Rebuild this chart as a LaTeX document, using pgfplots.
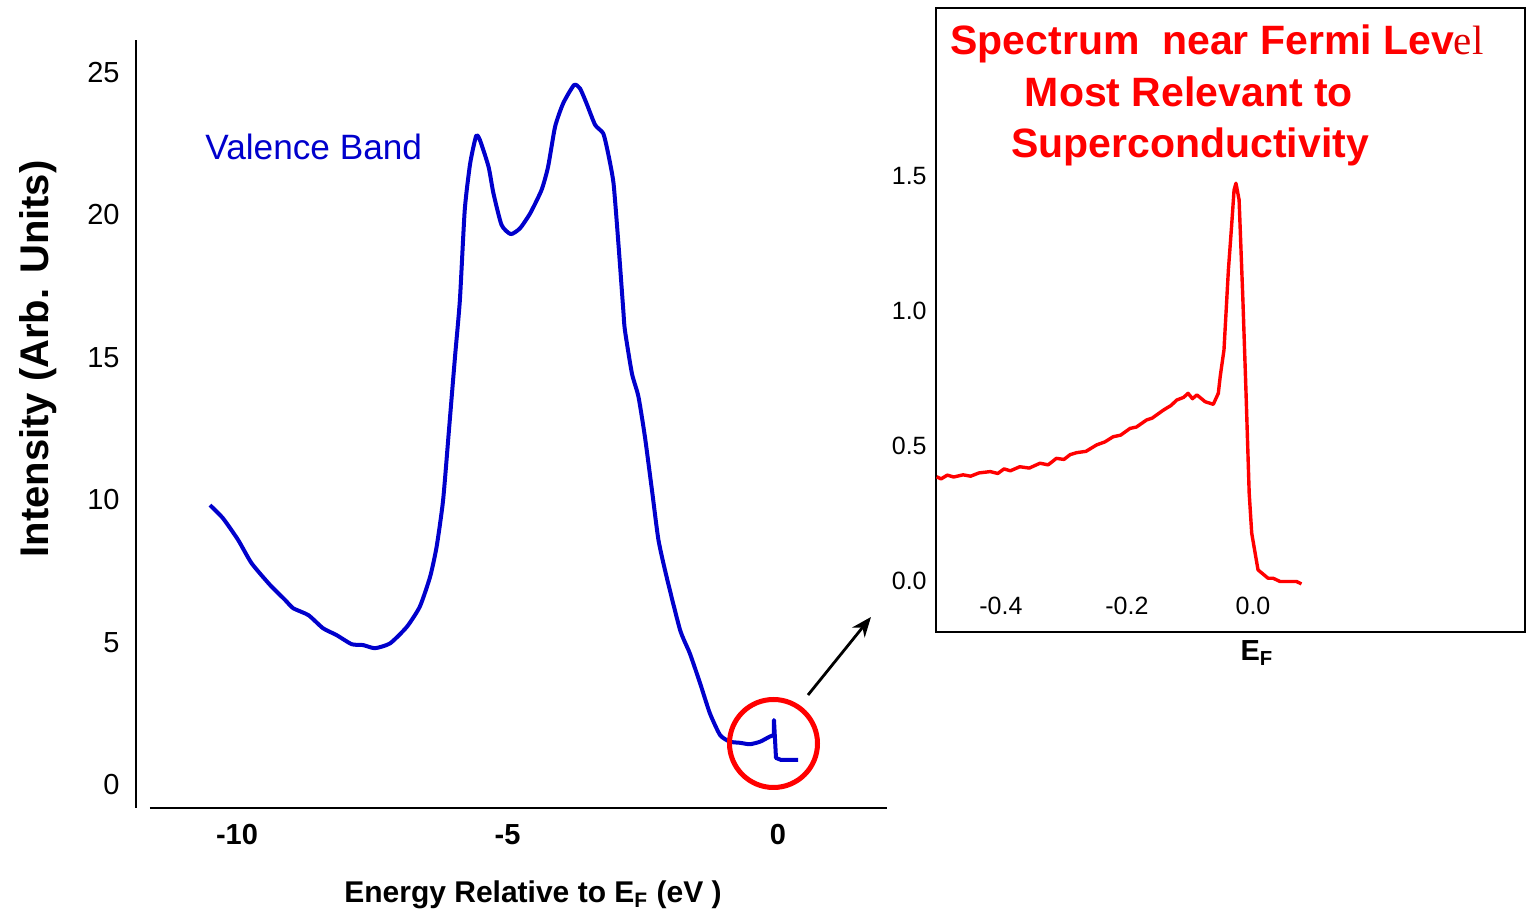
\documentclass[border=0pt]{standalone}
\usepackage{pgfplots}
\pgfplotsset{compat=1.18}
\usetikzlibrary{arrows.meta}
\usepackage{fontspec}
\setmainfont{Liberation Sans}
\newfontfamily\serifel{Liberation Serif}
\definecolor{vbblue}{RGB}{0,0,204}
\definecolor{fred}{RGB}{255,0,0}
\pgfplotstableread{
x y
-10.50 9.82
-10.26 9.36
-9.98 8.60
-9.73 7.78
-9.39 7.02
-9.11 6.49
-8.96 6.20
-8.68 5.96
-8.41 5.50
-8.16 5.26
-7.88 4.94
-7.67 4.91
-7.45 4.80
-7.17 4.97
-6.86 5.55
-6.62 6.26
-6.43 7.31
-6.31 8.36
-6.19 10.00
-6.08 12.50
-5.97 15.03
-5.88 17.02
-5.79 20.18
-5.69 21.81
-5.58 22.77
-5.51 22.63
-5.35 21.69
-5.26 20.76
-5.11 19.65
-4.94 19.33
-4.77 19.53
-4.58 20.06
-4.37 20.88
-4.25 21.69
-4.12 23.10
-3.97 23.92
-3.77 24.56
-3.66 24.44
-3.54 23.92
-3.38 23.16
-3.23 22.86
-3.14 22.16
-3.04 21.11
-2.95 19.00
-2.86 16.67
-2.83 15.96
-2.70 14.44
-2.58 13.63
-2.46 12.22
-2.33 10.35
-2.21 8.60
-2.06 7.31
-1.81 5.44
-1.63 4.62
-1.44 3.57
-1.26 2.52
-1.07 1.75
-0.89 1.52
-0.70 1.48
-0.52 1.43
-0.33 1.52
-0.15 1.70
-0.074 1.75
}\valence
\pgfplotstableread{
x y
-0.074 1.75
-0.074 2.28
-0.037 0.95
0.055 0.88
0.37 0.88
}\spike
\pgfplotstableread{
x y
-0.502 0.386
-0.495 0.378
-0.485 0.392
-0.475 0.385
-0.460 0.393
-0.448 0.388
-0.435 0.400
-0.417 0.405
-0.405 0.398
-0.395 0.415
-0.385 0.408
-0.370 0.423
-0.355 0.418
-0.338 0.436
-0.325 0.430
-0.312 0.454
-0.300 0.450
-0.290 0.468
-0.280 0.475
-0.265 0.480
-0.248 0.504
-0.235 0.515
-0.222 0.534
-0.210 0.540
-0.195 0.565
-0.185 0.570
-0.169 0.596
-0.160 0.603
-0.142 0.633
-0.130 0.650
-0.121 0.670
-0.110 0.680
-0.103 0.695
-0.096 0.675
-0.089 0.689
-0.076 0.664
-0.063 0.654
-0.055 0.695
-0.052 0.757
-0.046 0.856
-0.039 1.152
-0.034 1.312
-0.030 1.448
-0.027 1.473
-0.022 1.411
-0.016 1.041
-0.011 0.695
-0.006 0.325
-0.002 0.177
0.008 0.041
0.024 0.010
0.032 0.010
0.043 -0.002
0.069 -0.002
0.077 -0.011
}\fermi
\begin{document}
\begin{tikzpicture}
\path[use as bounding box] (0,0) rectangle (763.5pt,457pt);
% main axis
\begin{axis}[
  at={(68pt,53pt)}, anchor=south west,
  scale only axis, width=375.5pt, height=384pt,
  xmin=-11.867, xmax=2.015, ymin=-0.807, ymax=26.14,
  axis lines=left, axis line style={draw=none},
  major tick length=0pt, clip=false,
  xtick={-10,-5,0}, xticklabels={-10,-5,0},
  ytick={0,5,10,15,20,25}, yticklabels={0,5,10,15,20,25},
  xticklabel style={font=\bfseries\fontsize{14.5}{14.5}\selectfont, anchor=center, yshift=-13.5pt},
  yticklabel style={font=\fontsize{14.5}{14.5}\selectfont, anchor=east, inner sep=0pt, xshift=-8pt},
]
\addplot[vbblue, line width=2pt, line join=round, smooth, tension=0.35] table[x=x,y=y] {\valence};
\addplot[vbblue, line width=2pt, line join=round] table[x=x,y=y] {\spike};
\draw[line width=1.4pt] (axis cs:-11.867,-0.807) -- (axis cs:-11.867,26.14);
\draw[line width=1.4pt] (axis cs:-11.61,-0.807) -- (axis cs:2.015,-0.807);
\draw[fred, line width=2.5pt] (axis cs:-0.083,1.456) circle[radius=22pt];
\draw[black, line width=1.4pt, -{Stealth[length=10pt,width=8pt]}] (axis cs:0.555,3.158) -- (axis cs:1.719,5.895);
\node[anchor=base west, text=vbblue, font=\fontsize{17.6}{17.6}\selectfont, inner sep=0pt] at (axis cs:-10.59,21.93) {Valence Band};
\end{axis}
% axis labels
\node[rotate=90, anchor=base, inner sep=0pt, font=\bfseries\fontsize{20}{20}\selectfont] at (24pt,277.5pt) {Intensity (Arb. Units)};
\node[anchor=base, inner sep=0pt, font=\bfseries\fontsize{15}{15}\selectfont] at (266.5pt,5.5pt) {Energy Relative to E\textsubscript{F} (eV )};
% inset
\begin{axis}[
  at={(468pt,141pt)}, anchor=south west,
  scale only axis, width=294.5pt, height=312pt,
  xmin=-0.503, xmax=0.4317, ymin=-0.189, ymax=2.122,
  axis line style={line width=1.2pt},
  major tick length=0pt, clip=false,
  xtick={-0.4,-0.2,0}, xticklabels={-0.4,-0.2,0.0},
  ytick={0,0.5,1,1.5}, yticklabels={0.0,0.5,1.0,1.5},
  xticklabel style={font=\fontsize{12.5}{12.5}\selectfont, anchor=center, yshift=13pt},
  yticklabel style={font=\fontsize{12.5}{12.5}\selectfont, anchor=east, inner sep=0pt, xshift=-4.5pt},
]
\addplot[fred, line width=1.7pt, line join=round] table[x=x,y=y] {\fermi};
\end{axis}
\node[anchor=base, inner sep=0pt, font=\bfseries\fontsize{14.5}{14.5}\selectfont] at (628.5pt,126.5pt) {E\textsubscript{F}};
% inset title
\node[anchor=base west, inner sep=0pt, text=fred, font=\bfseries\fontsize{20.5}{20.5}\selectfont] at (475pt,429.5pt) {Spectrum\ \ near Fermi Lev{\serifel\mdseries\color{red!88!black}el}};
\node[anchor=base, inner sep=0pt, text=fred, font=\bfseries\fontsize{20.5}{20.5}\selectfont] at (594.5pt,403.5pt) {Most Relevant to};
\node[anchor=base, inner sep=0pt, text=fred, font=\bfseries\fontsize{20.5}{20.5}\selectfont] at (595pt,378pt) {Superconductivity};
\end{tikzpicture}
\end{document}
